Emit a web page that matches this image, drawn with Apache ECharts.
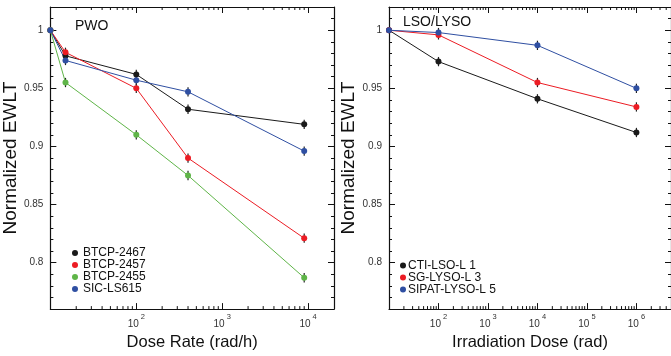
<!DOCTYPE html>
<html><head><meta charset="utf-8">
<script src="https://cdn.jsdelivr.net/npm/echarts@6/dist/echarts.min.js"></script>
<style>html,body{margin:0;padding:0;background:#fff}#c{width:671px;height:356px}</style>
</head><body><div id="c"></div>
<script>
// ---- data ----
const doseRate = [10, 15, 100, 400, 9000];          // rad/h (first point = reference)
const btcp2467 = [1, 0.978, 0.962, 0.932, 0.919];
const btcp2457 = [1, 0.981, 0.950, 0.890, 0.821];
const btcp2455 = [1, 0.955, 0.910, 0.875, 0.787];
const sicLs615 = [1, 0.974, 0.957, 0.947, 0.896];
const errLeft  = [0, 0.004, 0.004, 0.004, 0.004];

const irrDose  = [10, 100, 10000, 1000000];          // rad
const ctiLso   = [1, 0.973, 0.941, 0.912];
const sgLyso   = [1, 0.996, 0.955, 0.934];
const sipatLyso= [1, 0.998, 0.987, 0.950];
const errRight = [0, 0.004, 0.004, 0.004];

const leftNames  = ['BTCP-2467', 'BTCP-2457', 'BTCP-2455', 'SIC-LS615'];
const rightNames = ['CTI-LSO-L 1', 'SG-LYSO-L 3', 'SIPAT-LYSO-L 5'];
const yTicks = [0.8, 0.85, 0.9, 0.95, 1];
const minorMultipliers = [2, 3, 4, 5, 6, 7, 8, 9];   // log-axis minor tick multipliers

// ---- styling ----
const FONT = '"Liberation Sans", Arial, Helvetica, sans-serif';
const C_BLACK = '#1a1a1a', C_RED = '#ec1c24', C_GREEN = '#5fb548', C_BLUE = '#2f4fa2';

const chart = echarts.init(document.getElementById('c'), null, {renderer: 'canvas'});

function zip(xs, ys, es) { return xs.map((x, i) => es ? [x, ys[i], es[i]] : [x, ys[i]]); }

function logLabel(v) {
  const e = Math.round(Math.log10(v));
  return '{b|10}{s|' + e + '}';
}
function logMinorValues(min, max) {
  const out = [];
  for (let e = Math.floor(Math.log10(min)); Math.pow(10, e) <= max; e++) {
    minorMultipliers.forEach(m => { const v = m * Math.pow(10, e); if (v > min && v < max) out.push(v); });
  }
  return out;
}

function xAxisBottom(gridIndex, min, max, name) {
  return {
    type: 'log', logBase: 10, gridIndex, min, max, position: 'bottom',
    name, nameLocation: 'middle', nameGap: 20,
    nameTextStyle: {fontFamily: FONT, fontSize: 16.5, color: '#111'},
    axisLine: {show: true, lineStyle: {color: '#111', width: 1.2}},
    axisTick: {show: true, inside: true, length: 6, lineStyle: {color: '#111'}},
    minorTick: {show: false},
    splitLine: {show: false}, minorSplitLine: {show: false},
    axisLabel: {
      show: true, margin: 4, showMinLabel: false, showMaxLabel: false,
      formatter: logLabel,
      rich: {
        b: {fontFamily: FONT, fontSize: 10, color: '#333', lineHeight: 16, verticalAlign: 'bottom'},
        s: {fontFamily: FONT, fontSize: 7.5, color: '#333', lineHeight: 16, verticalAlign: 'top', padding: [0, 0, 0, 2]}
      }
    }
  };
}
function xAxisTop(gridIndex, min, max) {
  return {
    type: 'log', logBase: 10, gridIndex, min, max, position: 'top',
    axisLine: {show: true, lineStyle: {color: '#111', width: 1.2}},
    axisTick: {show: true, inside: true, length: 6, lineStyle: {color: '#111'}},
    minorTick: {show: false},
    splitLine: {show: false}, axisLabel: {show: false}
  };
}
function yAxisLeft(gridIndex, name) {
  return {
    type: 'value', gridIndex, min: 0.76, max: 1.02, position: 'left',
    name, nameLocation: 'middle', nameGap: 26,
    nameTextStyle: {fontFamily: FONT, fontSize: 19, color: '#111'},
    axisLine: {show: true, lineStyle: {color: '#111', width: 1.2}},
    axisTick: {show: true, inside: true, length: 6, lineStyle: {color: '#111'}},
    minorTick: {show: true, splitNumber: 5, length: 3, lineStyle: {color: '#111'}},
    splitLine: {show: false},
    axisLabel: {
      show: true, margin: 7, showMinLabel: false, showMaxLabel: false,
      fontFamily: FONT, fontSize: 10, color: '#333',
      formatter: v => (yTicks.some(t => Math.abs(t - v) < 1e-6) ? String(+v.toFixed(2)) : '')
    }
  };
}
function yAxisRight(gridIndex) {
  return {
    type: 'value', gridIndex, min: 0.76, max: 1.02, position: 'right',
    axisLine: {show: true, lineStyle: {color: '#111', width: 1.2}},
    axisTick: {show: true, inside: true, length: 6, lineStyle: {color: '#111'}},
    minorTick: {show: true, splitNumber: 5, length: 3, lineStyle: {color: '#111'}},
    splitLine: {show: false}, axisLabel: {show: false}
  };
}

function lineSeries(name, xs, ys, color, xi, yi) {
  return {
    type: 'line', name, xAxisIndex: xi, yAxisIndex: yi,
    data: zip(xs, ys), color,
    symbol: 'circle', symbolSize: 6, showSymbol: true,
    lineStyle: {color, width: 1}, itemStyle: {color},
    z: 3, animation: false, clip: false
  };
}
function errSeries(xs, ys, es, xi, yi) {
  return {
    type: 'custom', xAxisIndex: xi, yAxisIndex: yi, z: 2, animation: false,
    data: zip(xs, ys, es), silent: true,
    renderItem: (params, api) => {
      const x = api.value(0), y = api.value(1), e = api.value(2);
      if (!e) return null;
      const p1 = api.coord([x, y + e]), p2 = api.coord([x, y - e]);
      return {type: 'line', shape: {x1: p1[0], y1: p1[1], x2: p2[0], y2: p2[1]},
              style: {stroke: '#222', lineWidth: 1.2}};
    }
  };
}
function minorTickSeries(min, max, xi, yi) {
  return {
    type: 'custom', xAxisIndex: xi, yAxisIndex: yi, z: 1, animation: false, silent: true, clip: false,
    data: logMinorValues(min, max).map(v => [v, 0.9]),
    renderItem: (params, api) => {
      const cs = params.coordSys;
      const x = api.coord([api.value(0), 0.9])[0];
      const st = {stroke: '#111', lineWidth: 1};
      return {type: 'group', children: [
        {type: 'line', shape: {x1: x, y1: cs.y + cs.height, x2: x, y2: cs.y + cs.height - 3}, style: st},
        {type: 'line', shape: {x1: x, y1: cs.y, x2: x, y2: cs.y + 3}, style: st}
      ]};
    }
  };
}

const leftSets  = [btcp2467, btcp2457, btcp2455, sicLs615];
const leftCols  = [C_BLACK, C_RED, C_GREEN, C_BLUE];
const rightSets = [ctiLso, sgLyso, sipatLyso];
const rightCols = [C_BLACK, C_RED, C_BLUE];

const LEFT_MIN = 10, LEFT_MAX = 20000, RIGHT_MIN = 10, RIGHT_MAX = 5000000;

const series = [];
series.push(minorTickSeries(LEFT_MIN, LEFT_MAX, 0, 0));
series.push(minorTickSeries(RIGHT_MIN, RIGHT_MAX, 2, 2));
leftSets.forEach((s) => series.push(errSeries(doseRate, s, errLeft, 0, 0)));
rightSets.forEach((s) => series.push(errSeries(irrDose, s, errRight, 2, 2)));
leftSets.forEach((s, i) => series.push(lineSeries(leftNames[i], doseRate, s, leftCols[i], 0, 0)));
rightSets.forEach((s, i) => series.push(lineSeries(rightNames[i], irrDose, s, rightCols[i], 2, 2)));

const option = {
  backgroundColor: '#fff',
  animation: false,
  grid: [
    {left: 49, top: 7, width: 285, height: 303, containLabel: false},
    {left: 389, top: 7, width: 284, height: 303, containLabel: false}
  ],
  xAxis: [
    xAxisBottom(0, LEFT_MIN, LEFT_MAX, 'Dose Rate (rad/h)'),
    xAxisTop(0, LEFT_MIN, LEFT_MAX),
    xAxisBottom(1, RIGHT_MIN, RIGHT_MAX, 'Irradiation Dose (rad)'),
    xAxisTop(1, RIGHT_MIN, RIGHT_MAX)
  ],
  yAxis: [
    yAxisLeft(0, 'Normalized EWLT'),
    yAxisRight(0),
    yAxisLeft(1, 'Normalized EWLT'),
    yAxisRight(1)
  ],
  legend: [
    {data: leftNames, orient: 'vertical', left: 72, top: 247, icon: 'circle',
     itemWidth: 6, itemHeight: 6, itemGap: 0, padding: 0, selectedMode: false,
     textStyle: {fontFamily: FONT, fontSize: 12, color: '#111', lineHeight: 12}},
    {data: rightNames, orient: 'vertical', left: 400, top: 259.5, icon: 'circle',
     itemWidth: 6, itemHeight: 6, itemGap: 0, padding: 0, selectedMode: false,
     textStyle: {fontFamily: FONT, fontSize: 12, color: '#111', lineHeight: 11.5, padding: [0, 0, 0, -3]}}
  ],
  graphic: [
    {type: 'text', left: 75, top: 19, style: {text: 'PWO', font: '14px ' + FONT, fill: '#111'}},
    {type: 'text', left: 403, top: 15, style: {text: 'LSO/LYSO', font: '14px ' + FONT, fill: '#111'}}
  ],
  series
};
chart.setOption(option);
</script>
</body></html>
